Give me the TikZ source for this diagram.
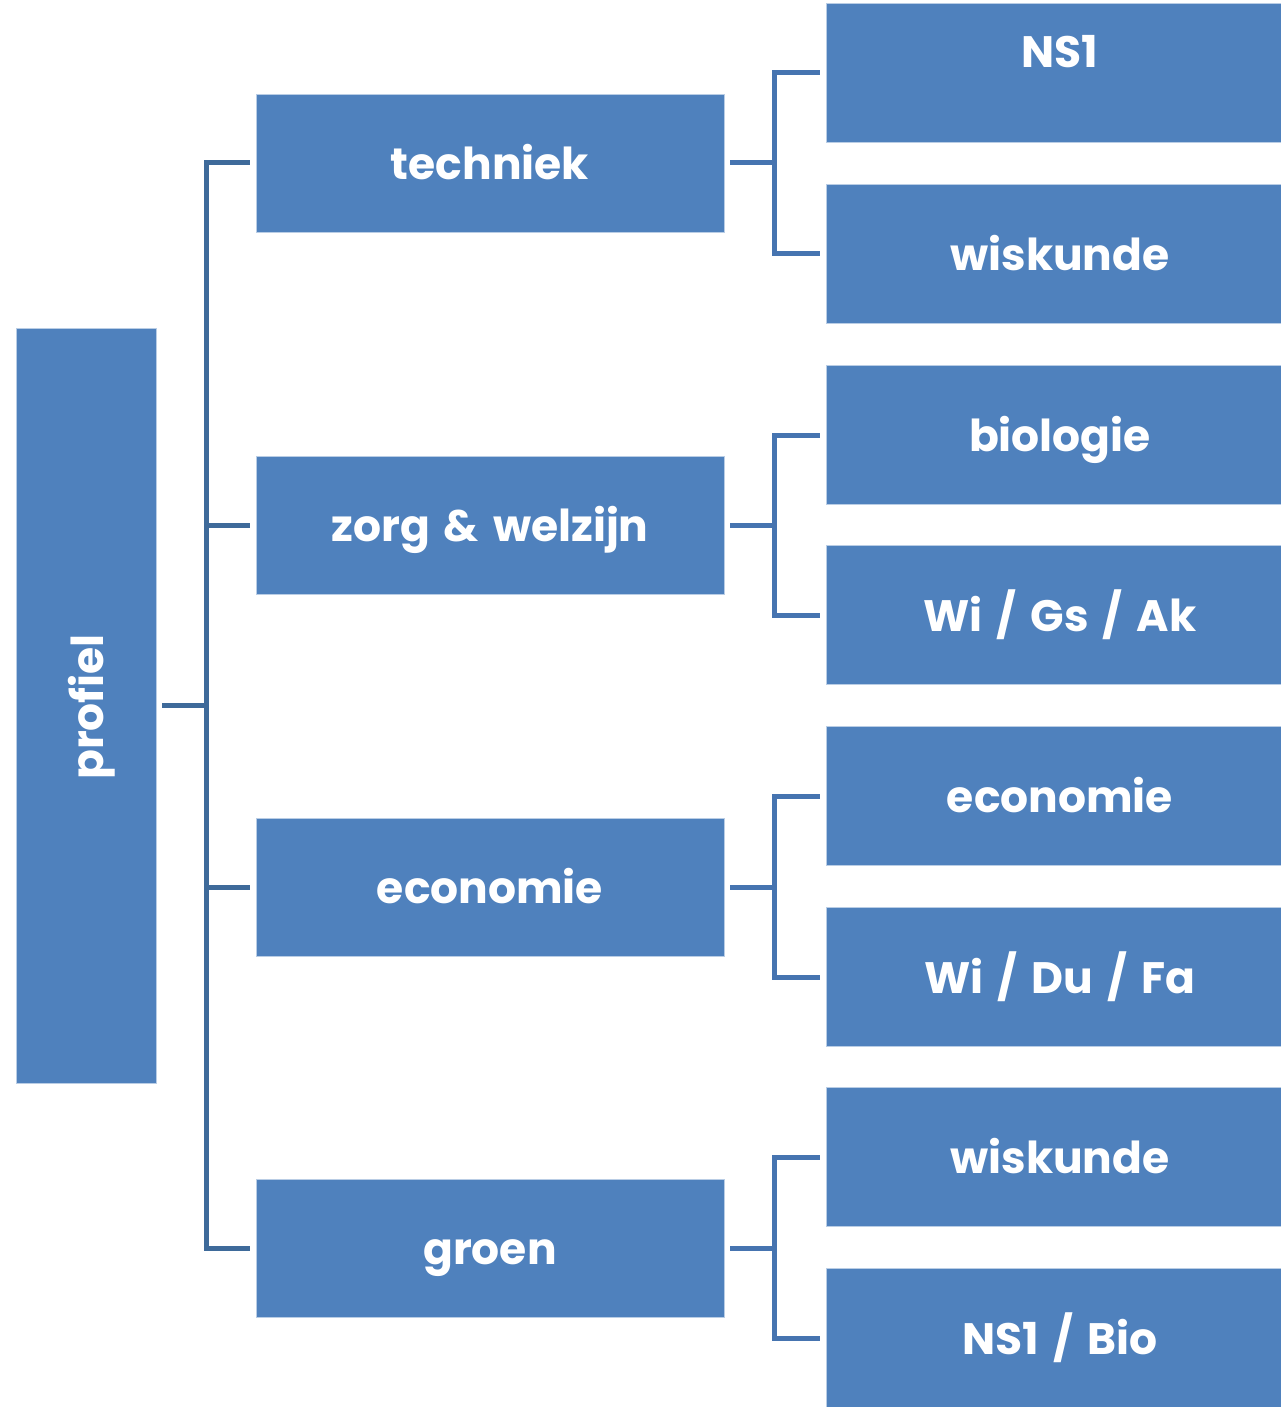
\documentclass[tikz,border=0pt]{standalone}
\usepackage{fontspec}
\setmainfont{Poppins}[WordSpace=1.5]
\definecolor{boxblue}{HTML}{4F81BD}
\definecolor{boxedge}{HTML}{B9CDE5}
\definecolor{lineL}{HTML}{3E6A9A}
\definecolor{lineR}{HTML}{4674B0}
\begin{document}
\begin{tikzpicture}[x=1pt,y=-1pt,
  box/.style={rectangle, fill=boxblue, draw=boxedge, line width=0.8pt, text=white,
    font=\fontsize{44}{50}\selectfont\bfseries, inner sep=0pt, anchor=center,
    text height=34pt, text depth=1pt},
  midbox/.style={box, minimum width=468pt, minimum height=138pt},
  rbox/.style={box, minimum width=468pt, minimum height=139pt},
  connL/.style={draw=lineL, line width=5pt, line join=miter},
  connR/.style={draw=lineR, line width=5pt, line join=miter}]
\useasboundingbox (0,0) rectangle (1281,1407);
\clip (0,0) rectangle (1281,1407);
% root
\node[box, minimum width=140pt, minimum height=755pt, text height=0pt, text depth=0pt] (root) at (86,705.5) {};
\node[rotate=90, text=white, font=\fontsize{44}{50}\selectfont\bfseries] (roottxt) at (92,707) {profiel};
% middle
\node[midbox] (m1) at (490,163) {techniek};
\node[midbox] (m2) at (490,525) {zorg \& welzijn};
\node[midbox] (m3) at (490,887) {economie};
\node[midbox] (m4) at (490,1248) {groen};
% right
\node[rbox, text depth=43pt] (r1) at (1060,72.5) {NS1};
\node[rbox] (r2) at (1060,253.5) {wiskunde};
\node[rbox] (r3) at (1060,435) {biologie};
\node[rbox] (r4) at (1060,615) {Wi / Gs / Ak};
\node[rbox] (r5) at (1060,796) {economie};
\node[rbox] (r6) at (1060,977) {Wi / Du / Fa};
\node[rbox] (r7) at (1060,1157) {wiskunde};
\node[rbox] (r8) at (1060,1338) {NS1 / Bio};
% left tree
\coordinate (sp) at (206,705);
\draw[connL] ([xshift=6pt]root.east |- sp) -- (sp);
\foreach \m in {m1,m2,m3,m4}{
  \draw[connL] (206,705) |- ([xshift=-6pt]\m.west);
}
% right trees
\foreach \m/\a/\b in {m1/r1/r2, m2/r3/r4, m3/r5/r6, m4/r7/r8}{
  \draw[connR] ([xshift=6pt]\m.east) -- ([xshift=50pt]\m.east);
  \draw[connR] ([xshift=-6pt]\a.west) -| ([xshift=50pt]\m.east) |- ([xshift=-6pt]\b.west);
}
\end{tikzpicture}
\end{document}
